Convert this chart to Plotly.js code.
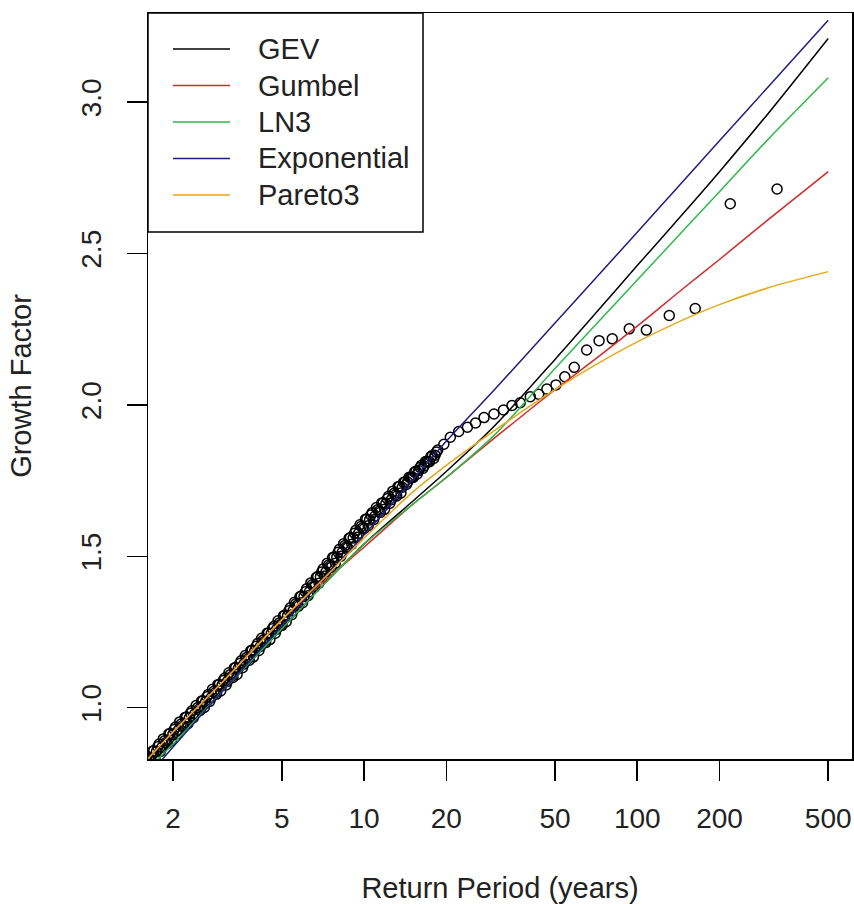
<!DOCTYPE html>
<html>
<head>
<meta charset="utf-8">
<script src="https://cdn.plot.ly/plotly-3.0.1.min.js"></script>
<style>
html,body{margin:0;padding:0;background:#fff;}
#chart{width:854px;height:904px;}
</style>
</head>
<body>
<div id="chart"></div>
<script>
// Return periods at which the fitted growth curves were read
const retPeriods   = [1.5, 2, 3, 5, 7, 10, 15, 20, 30, 50, 70, 100, 150, 200, 300, 500];
const gevCurve     = [0.78, 0.89, 1.05, 1.26, 1.40, 1.54, 1.68, 1.78, 1.93, 2.15, 2.30, 2.46, 2.64, 2.77, 2.96, 3.21];
const gumbelCurve  = [0.80, 0.92, 1.08, 1.29, 1.41, 1.53, 1.67, 1.76, 1.89, 2.05, 2.15, 2.26, 2.39, 2.48, 2.61, 2.77];
const ln3Curve     = [0.77, 0.88, 1.05, 1.26, 1.40, 1.54, 1.67, 1.76, 1.90, 2.12, 2.262, 2.412, 2.583, 2.704, 2.875, 3.08];
const expCurve     = [0.74, 0.87, 1.05, 1.27, 1.42, 1.57, 1.75, 1.88, 2.05, 2.27, 2.416, 2.57, 2.747, 2.872, 3.048, 3.27];
const pareto3Curve = [0.80, 0.92, 1.08, 1.29, 1.42, 1.56, 1.71, 1.80, 1.915, 2.05, 2.131, 2.208, 2.284, 2.331, 2.386, 2.44];

// Observed growth factors against their return periods (all sites pooled)
const obsT = [1.55,1.586,1.623,1.661,1.700,1.739,1.780,1.821,1.864,1.907,1.951,1.997,2.043,2.091,2.140,2.189,2.240,2.293,2.346,2.401,
  2.457,2.514,2.572,2.632,2.694,2.756,2.821,2.886,2.954,3.022,3.093,3.165,3.238,3.314,3.391,3.470,3.551,3.633,3.718,3.805,
  3.893,3.984,4.077,4.172,4.269,4.368,4.470,4.574,4.681,4.790,4.901,5.015,5.132,5.252,5.374,5.499,5.627,5.758,5.892,6.030,
  6.170,6.314,6.461,6.611,6.765,6.923,7.084,7.249,7.417,7.590,7.767,7.948,8.133,8.322,8.516,8.714,8.917,9.125,9.337,9.555,
  9.777,10.00,10.24,10.48,10.72,10.97,11.22,11.48,11.75,12.02,12.30,12.59,12.88,13.18,13.49,13.80,14.13,14.45,14.79,15.14,
  15.49,15.85,16.22,16.60,16.98,17.38,17.78,18.20,18.62,19.6,20.7,22.2,23.9,25.6,27.5,29.9,32.4,34.8,37.3,40.6,
  43.6,46.7,50.4,54.3,58.8,65.3,72.5,81,93.5,108,131,163,219,325];
const obsGF = [0.823,0.812,0.834,0.825,0.858,0.855,0.880,0.869,0.891,0.882,0.915,0.912,0.936,0.925,0.946,0.937,0.969,0.966,0.990,0.979,
  1.000,0.991,1.023,1.020,1.044,1.033,1.054,1.045,1.077,1.074,1.098,1.087,1.109,1.100,1.133,1.130,1.155,1.144,1.166,1.157,
  1.190,1.188,1.212,1.202,1.223,1.215,1.247,1.245,1.269,1.259,1.280,1.272,1.306,1.304,1.330,1.320,1.343,1.335,1.369,1.367,
  1.393,1.383,1.406,1.399,1.433,1.432,1.458,1.448,1.471,1.464,1.498,1.497,1.523,1.513,1.536,1.528,1.562,1.560,1.586,1.576,
  1.599,1.591,1.623,1.620,1.644,1.633,1.654,1.645,1.677,1.674,1.698,1.687,1.708,1.699,1.731,1.728,1.746,1.745,1.760,1.760,
  1.781,1.783,1.800,1.798,1.813,1.812,1.833,1.834,1.851,1.870,1.893,1.912,1.926,1.940,1.958,1.970,1.983,1.998,2.007,2.027,
  2.035,2.052,2.066,2.093,2.124,2.181,2.212,2.218,2.251,2.247,2.295,2.318,2.664,2.713];
// Further observations lying inside the dense part of the band
const obsT2 = [1.568,1.604,1.642,1.680,1.720,1.759,1.801,1.842,1.886,1.929,1.974,2.020,2.067,2.115,2.165,2.214,2.266,2.320,2.373,2.429,
  2.485,2.543,2.602,2.662,2.725,2.788,2.854,2.919,2.988,3.057,3.129,3.202,3.275,3.352,3.430,3.510,3.592,3.675,3.761,3.849,
  3.938,4.030,4.124,4.220,4.318,4.419,4.522,4.627,4.735,4.845,4.958,5.073,5.191,5.313,5.436,5.563,5.692,5.825,5.960,6.100,
  6.241,6.387,6.536,6.688,6.843,7.003,7.166,7.333,7.503,7.678,7.857,8.040,8.227,8.418,8.615,8.815,9.020,9.231,9.445,9.666,
  9.890,10.12,10.36,10.60,10.84,11.10,11.35,11.61,11.89,12.16,12.44,12.74,13.03,13.33,13.65,13.96,14.29,14.62,14.96,15.32,
  15.67,16.03,16.41,16.79,17.18,17.58,17.99,18.41];
const obsGF2 = [0.799,0.840,0.828,0.856,0.835,0.871,0.856,0.897,0.885,0.913,0.892,0.928,0.913,0.953,0.941,0.968,0.947,0.982,0.967,1.007,
  0.995,1.022,1.001,1.036,1.021,1.061,1.049,1.076,1.055,1.090,1.075,1.115,1.103,1.131,1.110,1.146,1.132,1.172,1.161,1.188,
  1.168,1.203,1.189,1.229,1.218,1.246,1.225,1.261,1.246,1.287,1.275,1.303,1.284,1.320,1.307,1.348,1.338,1.366,1.347,1.383,
  1.370,1.412,1.401,1.430,1.411,1.448,1.435,1.477,1.467,1.496,1.477,1.513,1.500,1.541,1.531,1.559,1.540,1.576,1.563,1.604,
  1.594,1.622,1.601,1.636,1.621,1.661,1.649,1.676,1.655,1.690,1.675,1.715,1.703,1.730,1.709,1.744,1.737,1.761,1.760,1.778,
  1.772,1.793,1.790,1.813,1.812,1.829,1.823,1.844];

const xTickVals = [2, 5, 10, 20, 50, 100, 200, 500];
const xTickText = ["2", "5", "10", "20", "50", "100", "200", "500"];
const yTickVals = [1.0, 1.5, 2.0, 2.5, 3.0];
const yTickText = ["1.0", "1.5", "2.0", "2.5", "3.0"];

const seriesNames  = ["GEV", "Gumbel", "LN3", "Exponential", "Pareto3"];
const seriesColors = ["#000000", "#d42a2a", "#2eb84a", "#1e1e82", "#e6a817"];
const seriesValues = [gevCurve, gumbelCurve, ln3Curve, expCurve, pareto3Curve];

const FONT = "Liberation Sans, Arial, sans-serif";
const W = 854, H = 904;
const M = {l: 148, r: 2, t: 13, b: 145};
const plotW = W - M.l - M.r, plotH = H - M.t - M.b;
// helpers: page pixel -> paper fraction (used only for the legend box)
const px = x => (x - M.l) / plotW;
const py = y => (H - M.b - y) / plotH;

const traces = [{
  x: obsT.concat(obsT2), y: obsGF.concat(obsGF2), type: "scatter", mode: "markers", showlegend: false, name: "Observed",
  marker: {symbol: "circle-open", size: 10, color: "#000", line: {width: 1.5, color: "#000"}}
}];
seriesNames.forEach((n, i) => {
  traces.push({
    x: retPeriods, y: seriesValues[i], type: "scatter", mode: "lines", name: n,
    showlegend: false,
    line: {color: seriesColors[i], width: 1.5, shape: "spline", smoothing: 0.8}
  });
});

// Legend in the style of R's legend(): box, line samples and labels
const legBox = {x0: 148, x1: 423, y0: 13, y1: 232};
const legLineX = [173, 230], legTextX = 256, legRowY0 = 49, legRowStep = 36.5;
const shapes = [{
  type: "rect", xref: "paper", yref: "paper", layer: "above",
  x0: px(legBox.x0), x1: px(legBox.x1), y0: py(legBox.y1), y1: py(legBox.y0),
  fillcolor: "#fff", line: {color: "#000", width: 1.5}
}];
const annotations = [];
seriesNames.forEach((n, i) => {
  const yy = py(legRowY0 + i * legRowStep);
  shapes.push({
    type: "line", xref: "paper", yref: "paper", layer: "above",
    x0: px(legLineX[0]), x1: px(legLineX[1]), y0: yy, y1: yy,
    line: {color: seriesColors[i], width: 1.5}
  });
  annotations.push({
    xref: "paper", yref: "paper", x: px(legTextX), y: yy,
    xanchor: "left", yanchor: "middle", showarrow: false,
    text: n, font: {family: FONT, size: 29, color: "#222"}
  });
});

const layout = {
  width: W, height: H,
  margin: M,
  paper_bgcolor: "#fff", plot_bgcolor: "#fff",
  font: {family: FONT, size: 28, color: "#222"},
  showlegend: false,
  shapes: shapes,
  annotations: annotations,
  xaxis: {
    type: "log", range: [0.2094, 2.786],
    tickvals: xTickVals, ticktext: xTickText,
    ticks: "outside", ticklen: 20, tickwidth: 1.5, tickcolor: "#000",
    showgrid: false, zeroline: false,
    showline: true, linecolor: "#000", linewidth: 1.5, mirror: true,
    tickfont: {family: FONT, size: 28, color: "#222"},
    ticklabelstandoff: 14,
    title: {text: "Return Period (years)", font: {family: FONT, size: 29, color: "#222"}, standoff: 44}
  },
  yaxis: {
    range: [0.8306, 3.294],
    tickvals: yTickVals, ticktext: yTickText, tickangle: -90,
    ticks: "outside", ticklen: 20, tickwidth: 1.5, tickcolor: "#000",
    showgrid: false, zeroline: false,
    showline: true, linecolor: "#000", linewidth: 1.5, mirror: true,
    tickfont: {family: FONT, size: 28, color: "#222"},
    ticklabelstandoff: 14,
    title: {text: "Growth Factor", font: {family: FONT, size: 29, color: "#222"}, standoff: 36}
  }
};

Plotly.newPlot("chart", traces, layout, {displayModeBar: false, staticPlot: true});
</script>
</body>
</html>
